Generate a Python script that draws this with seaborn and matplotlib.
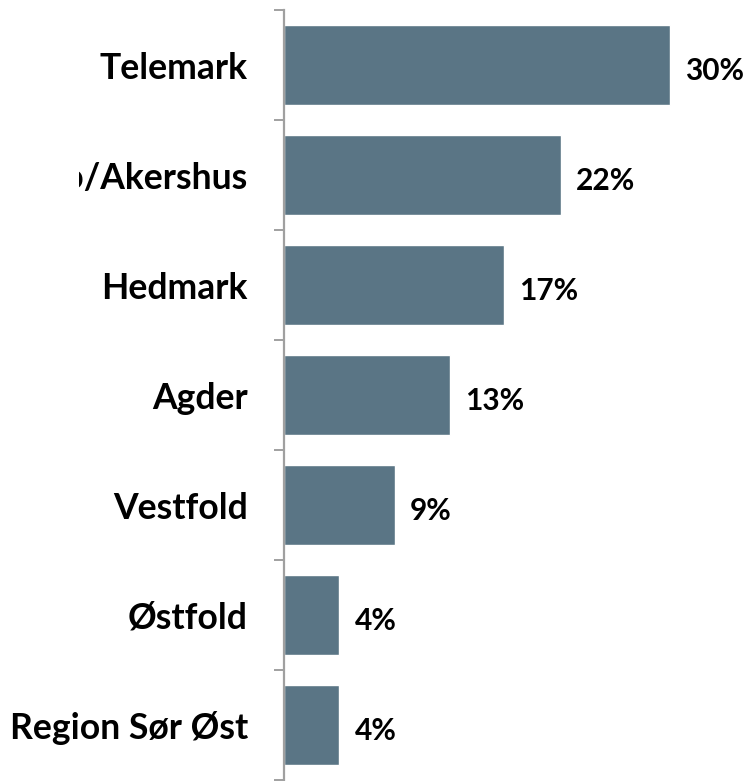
import matplotlib
matplotlib.use("Agg")
import matplotlib.pyplot as plt
import matplotlib.transforms as mtransforms
import seaborn as sns
import pandas as pd
import numpy as np

categories = ["Telemark", "Oslo/Akershus", "Hedmark", "Agder", "Vestfold", "Østfold", "Region Sør Øst"]
values = [30.0, 21.5, 17.1, 12.9, 8.6, 4.3, 4.3]
value_labels = ["30%", "22%", "17%", "13%", "9%", "4%", "4%"]

sns.set_theme(style="white")
plt.rcParams['font.family'] = ['Lato', 'DejaVu Sans']

df = pd.DataFrame({"region": categories, "value": values})

fig = plt.figure(figsize=(7.47, 7.81), dpi=100)
ax = fig.add_axes([284/747, 1/781, 463/747, 770/781])
sns.barplot(data=df, y="region", x="value", orient="h", color="#5a7585",
            saturation=1, width=0.73, ax=ax)
ax.set_xlim(0, 36)
ax.set_ylim(6.5, -0.5)
ax.set_xlabel("")
ax.set_ylabel("")
ax.set_xticks([])
for s in ["top", "right", "bottom"]:
    ax.spines[s].set_visible(False)
ax.spines["left"].set_color("#a0a0a0")
ax.spines["left"].set_linewidth(1.6)

ax.set_yticks(range(len(categories)))
ax.set_yticklabels(categories, fontsize=25.6, fontweight="bold", color="#000000")
ax.tick_params(axis="y", which="major", length=0, pad=26)
ax.set_yticks(np.arange(-0.5, len(categories), 1), minor=True)
ax.tick_params(axis="y", which="minor", length=7, width=1.4, color="#a0a0a0", left=True)

# the long label is cut off at its left side in the reference
for lbl in ax.get_yticklabels():
    if lbl.get_text() == "Oslo/Akershus":
        lbl.set_clip_box(mtransforms.TransformedBbox(
            mtransforms.Bbox.unit(),
            mtransforms.Affine2D().scale(747 - 79, 781).translate(79, 0)))
        lbl.set_clip_on(True)

texts = ax.bar_label(ax.containers[0], labels=value_labels, padding=11,
                     fontsize=21.5, fontweight="bold", color="#000000")
for t in texts:
    x, y = t.xy
    t.xyann = (t.xyann[0], t.xyann[1] - 4)

fig.savefig("out.png", dpi=100)
